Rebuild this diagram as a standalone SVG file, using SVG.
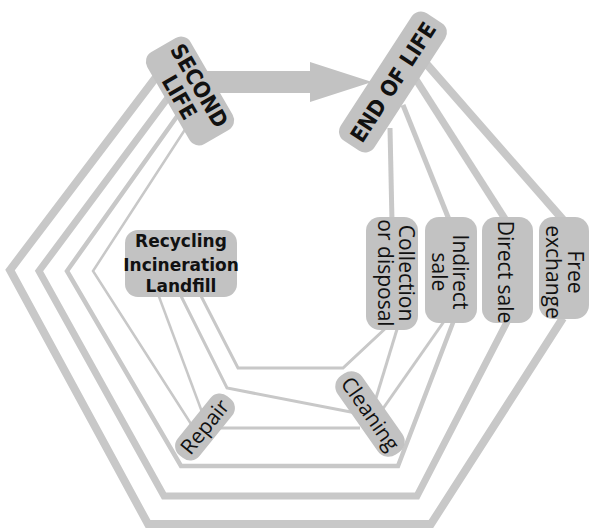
<svg xmlns="http://www.w3.org/2000/svg" width="589" height="530" viewBox="0 0 589 530">
<style>
.c{fill:none;stroke:#c8c8c8;stroke-linejoin:miter;stroke-linecap:butt}
.box{fill:#c2c2c2}
.tb{font-family:"DejaVu Sans Condensed","DejaVu Sans",sans-serif;font-stretch:condensed;font-weight:bold;fill:#111;text-anchor:middle}
.tm{font-family:"DejaVu Sans",sans-serif;font-weight:bold;font-size:17px;fill:#111;text-anchor:middle}
.tr{font-family:"Open Sans","DejaVu Sans",sans-serif;font-size:21px;fill:#111;text-anchor:middle}
</style>
<rect width="589" height="530" fill="#ffffff"/>
<g id="connectors">
  <polyline class="c" stroke-width="8" points="160,72 10,270 148,524 431,524 563,318"/>
  <polyline class="c" stroke-width="7" points="170,95 39,271 164,496 417,496 508,320"/>
  <polyline class="c" stroke-width="4.5" points="178,115 67,271 181,466 398,466 454,320"/>
  <polyline class="c" stroke-width="2.5" points="186,128 93,271 193,427"/>
  <line class="c" stroke-width="8" x1="423" y1="60" x2="565" y2="222"/>
  <line class="c" stroke-width="7" x1="415" y1="78" x2="507" y2="222"/>
  <line class="c" stroke-width="5" x1="403" y1="105" x2="450" y2="222"/>
  <line class="c" stroke-width="5" x1="390" y1="128" x2="392" y2="222"/>
  <polyline class="c" stroke-width="3" points="200,294 238,368 343,368 388,326"/>
  <polyline class="c" stroke-width="3" points="180,294 227,388 356,413"/>
  <line class="c" stroke-width="2.5" x1="158" y1="294" x2="202" y2="412"/>
  <line class="c" stroke-width="3" x1="215" y1="428" x2="360" y2="428"/>
  <line class="c" stroke-width="3" x1="398" y1="326" x2="376" y2="398"/>
  <line class="c" stroke-width="3" x1="445" y1="320" x2="382" y2="410"/>
  <polygon fill="#c2c2c2" points="205,71 310,71 310,62 372,82 310,102 310,93 205,93"/>
</g>
<g id="second-life">
  <rect class="box" x="-53" y="-25" width="106" height="50" rx="11" transform="translate(190,91) rotate(60)"/>
  <text class="tb" font-size="22" transform="translate(190,91) rotate(60)"><tspan x="0" y="-3">SECOND</tspan><tspan x="0" y="20">LIFE</tspan></text>
</g>
<g id="end-of-life">
  <rect class="box" x="-76" y="-20" width="152" height="40" rx="11" transform="translate(393,82) rotate(-57)"/>
  <text class="tb" font-size="22" x="0" y="8" transform="translate(393,82) rotate(-57)">END OF LIFE</text>
</g>
<g id="recycling">
  <rect class="box" x="125" y="230" width="112" height="67" rx="13"/>
  <text class="tm" x="181" y="247">Recycling</text>
  <text class="tm" x="181" y="271">Incineration</text>
  <text class="tm" x="181" y="292">Landfill</text>
</g>
<g id="collection">
  <rect class="box" x="366" y="217" width="52" height="113" rx="14"/>
  <text class="tr" transform="translate(392,273) rotate(90)"><tspan x="0" y="-7">Collection</tspan><tspan x="0" y="14">or disposal</tspan></text>
</g>
<g id="indirect-sale">
  <rect class="box" x="425" y="217" width="52" height="106" rx="14"/>
  <text class="tr" transform="translate(451,272) rotate(90)"><tspan x="0" y="-2">Indirect</tspan><tspan x="0" y="19">sale</tspan></text>
</g>
<g id="direct-sale">
  <rect class="box" x="482" y="217" width="51" height="106" rx="14"/>
  <text class="tr" x="0" y="9" transform="translate(507,272) rotate(90)">Direct sale</text>
</g>
<g id="free-exchange">
  <rect class="box" x="539" y="217" width="50" height="102" rx="14"/>
  <text class="tr" transform="translate(563,272) rotate(90)"><tspan x="0" y="-5">Free</tspan><tspan x="0" y="17">exchange</tspan></text>
</g>
<g id="repair">
  <rect class="box" x="-38" y="-14" width="76" height="28" rx="12" transform="translate(205,427) rotate(-51)"/>
  <text class="tr" x="0" y="7" transform="translate(205,427) rotate(-51)">Repair</text>
</g>
<g id="cleaning">
  <rect class="box" x="-48" y="-15" width="96" height="30" rx="13" transform="translate(370,414) rotate(55)"/>
  <text class="tr" x="0" y="7" transform="translate(370,414) rotate(55)">Cleaning</text>
</g>
</svg>
